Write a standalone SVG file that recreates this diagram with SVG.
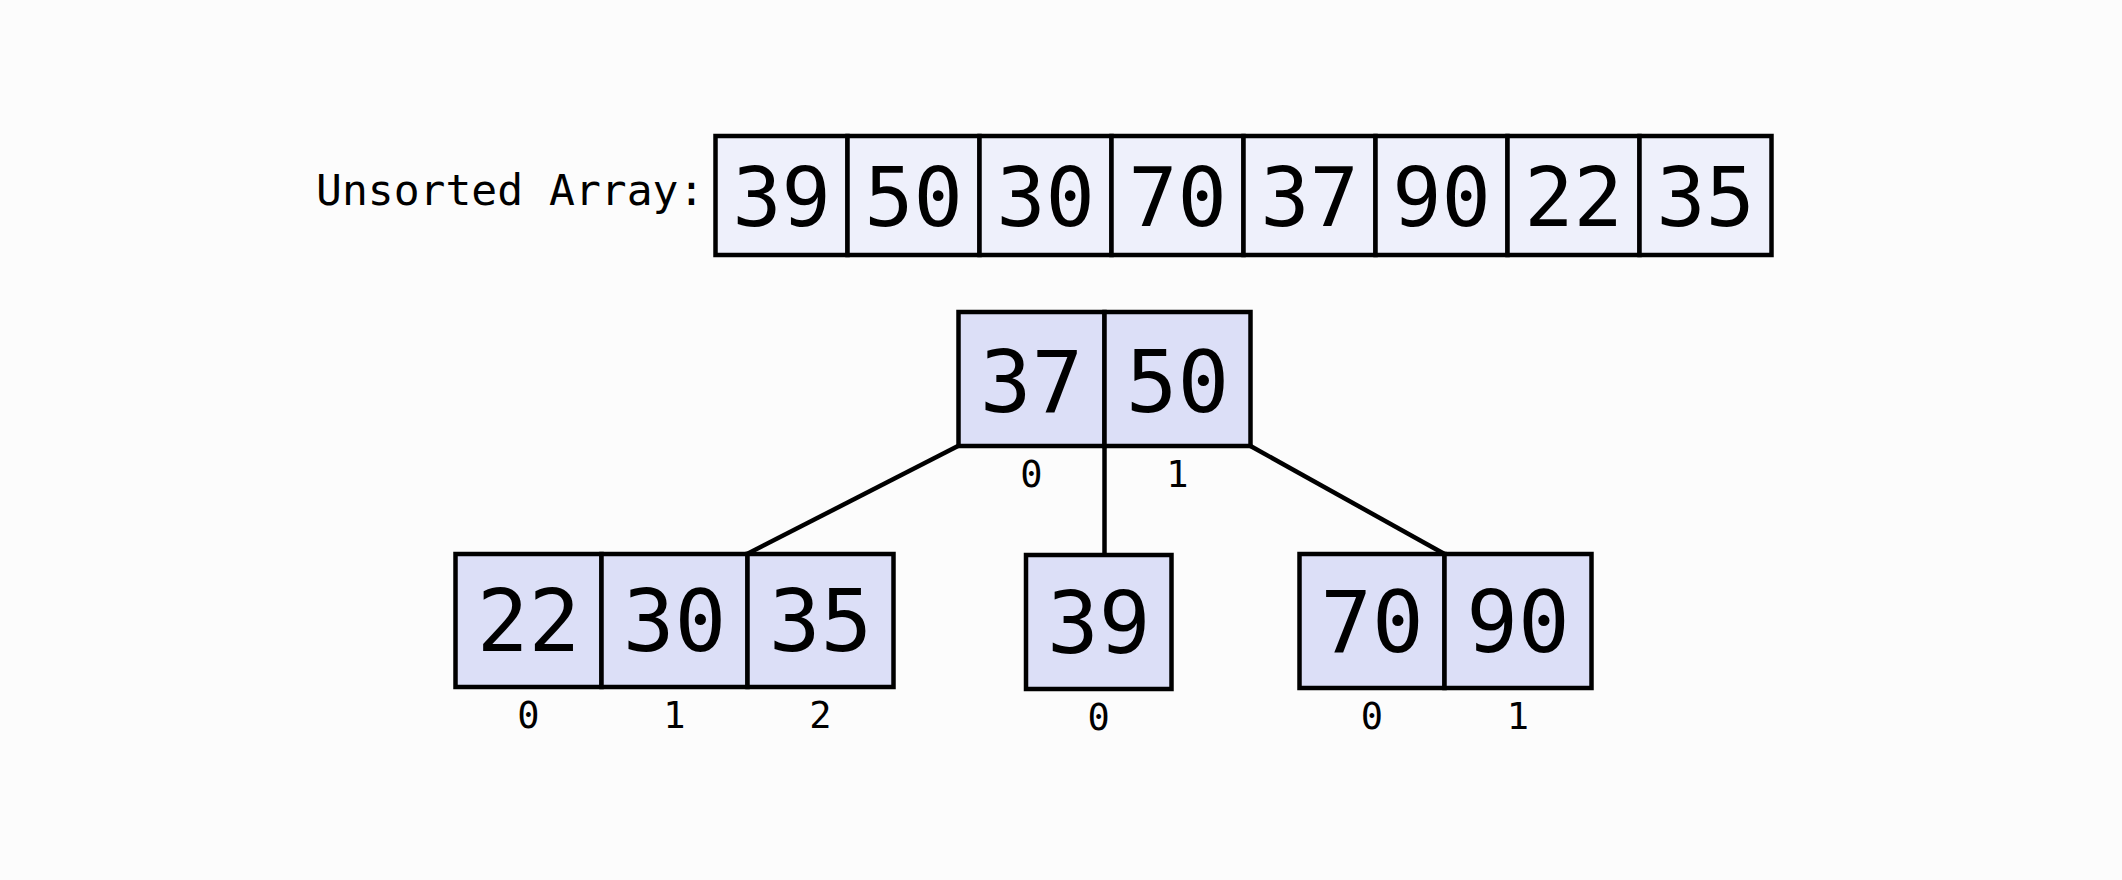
<svg xmlns="http://www.w3.org/2000/svg" width="2122" height="880" viewBox="0 0 2122 880">
<style>
.bg{fill:#fcfcfc}
.arr{fill:#eef0fb;stroke:#000;stroke-width:4.5}
.nd{fill:#dcdff7;stroke:#000;stroke-width:4.5}
.ln{stroke:#000;stroke-width:4.5;fill:none}
text{font-family:"DejaVu Sans Mono","Liberation Mono",monospace;fill:#000;text-anchor:middle}
.big{font-size:82px}
.num{font-size:86px}
.idx{font-size:37px}
.lbl{font-size:43px;text-anchor:start}
</style>
<rect class="bg" width="2122" height="880"/>
<g id="unsorted-array">
<text class="lbl" x="316" y="205">Unsorted Array:</text>
<rect class="arr" x="715.5" y="136" width="132" height="119"/>
<rect class="arr" x="847.5" y="136" width="132" height="119"/>
<rect class="arr" x="979.5" y="136" width="132" height="119"/>
<rect class="arr" x="1111.5" y="136" width="132" height="119"/>
<rect class="arr" x="1243.5" y="136" width="132" height="119"/>
<rect class="arr" x="1375.5" y="136" width="132" height="119"/>
<rect class="arr" x="1507.5" y="136" width="132" height="119"/>
<rect class="arr" x="1639.5" y="136" width="132" height="119"/>
<text class="big" x="781.5" y="226">39</text>
<text class="big" x="913.5" y="226">50</text>
<text class="big" x="1045.5" y="226">30</text>
<text class="big" x="1177.5" y="226">70</text>
<text class="big" x="1309.5" y="226">37</text>
<text class="big" x="1441.5" y="226">90</text>
<text class="big" x="1573.5" y="226">22</text>
<text class="big" x="1705.5" y="226">35</text>
</g>
<g id="connectors">
<line class="ln" x1="958" y1="446" x2="747" y2="554"/>
<line class="ln" x1="1104.5" y1="446" x2="1104.5" y2="555"/>
<line class="ln" x1="1250.5" y1="446" x2="1444.5" y2="554"/>
</g>
<g id="root">
<rect class="nd" x="958.5" y="312" width="146" height="134"/>
<rect class="nd" x="1104.5" y="312" width="146" height="134"/>
<text class="num" x="1031.5" y="412">37</text>
<text class="num" x="1177.5" y="412">50</text>
<text class="idx" x="1031.5" y="487">0</text>
<text class="idx" x="1177.5" y="487">1</text>
</g>
<g id="left-child">
<rect class="nd" x="455.5" y="554" width="146" height="133"/>
<rect class="nd" x="601.5" y="554" width="146" height="133"/>
<rect class="nd" x="747.5" y="554" width="146" height="133"/>
<text class="num" x="528.5" y="651">22</text>
<text class="num" x="674.5" y="651">30</text>
<text class="num" x="820.5" y="651">35</text>
<text class="idx" x="528.5" y="728">0</text>
<text class="idx" x="674.5" y="728">1</text>
<text class="idx" x="820.5" y="728">2</text>
</g>
<g id="middle-child">
<rect class="nd" x="1026" y="555" width="145.5" height="134"/>
<text class="num" x="1098.75" y="653">39</text>
<text class="idx" x="1098.75" y="730">0</text>
</g>
<g id="right-child">
<rect class="nd" x="1299.5" y="554" width="145" height="134"/>
<rect class="nd" x="1444.5" y="554" width="147" height="134"/>
<text class="num" x="1372" y="652">70</text>
<text class="num" x="1518" y="652">90</text>
<text class="idx" x="1372" y="729">0</text>
<text class="idx" x="1518" y="729">1</text>
</g>
</svg>
